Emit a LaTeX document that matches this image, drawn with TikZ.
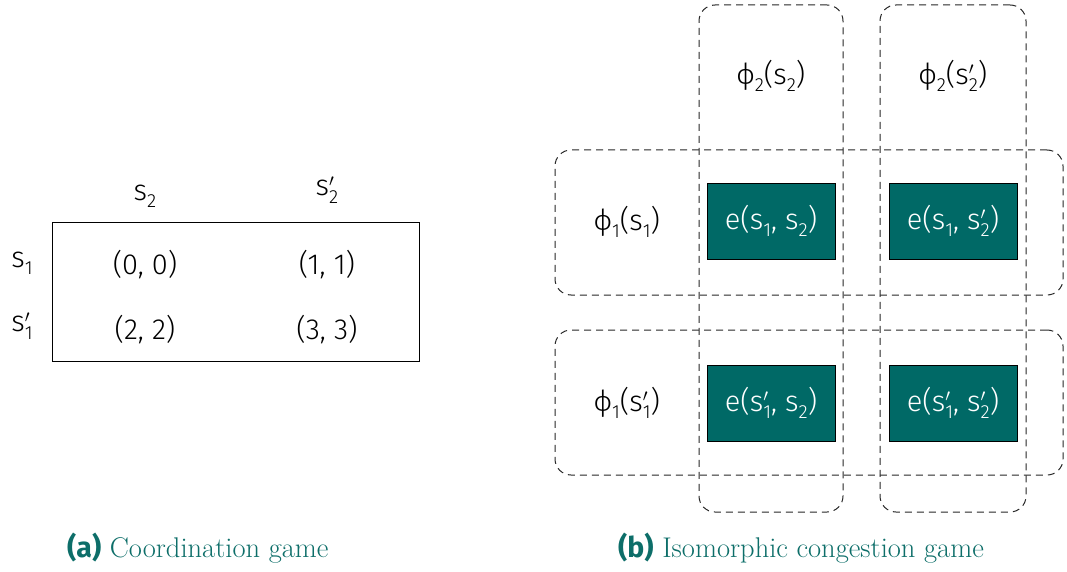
\documentclass[tikz,border=0pt]{standalone}
\usepackage{fontspec}
\newfontfamily\mfont{Fira Sans Light}
\newfontfamily\bfont{Fira Sans}
\definecolor{tealc}{HTML}{006966}
\definecolor{capc}{HTML}{0D6E69}
\newcommand\smsub[1]{\raisebox{-0.25em}{\fontsize{19}{19}\selectfont #1}}
\newcommand\spri[1]{s\makebox[0pt][l]{\raisebox{0.33em}{\fontsize{18}{18}\selectfont$\prime$}}\smsub{#1}}
\newcommand\sone[1]{s\smsub{#1}}
\begin{document}
\begin{tikzpicture}[x=1pt,y=-1pt,
  lab/.style={font=\mfont\fontsize{29}{31}\selectfont, inner sep=0pt},
  grp/.style={draw=black!85, dash pattern=on 7pt off 5pt, rounded corners=16pt, line width=1pt, inner sep=0pt},
  ebox/.style={draw=black, fill=tealc, text=white, line width=0.8pt, minimum width=128pt, minimum height=76pt, inner sep=0pt, font=\mfont\fontsize{29}{31}\selectfont},
  captxt/.style={text=capc, font=\fontsize{28.5}{30}\selectfont, inner sep=0pt, anchor=west}]
\useasboundingbox (0,0) rectangle (1067,572);
% (a)
\node[draw, line width=0.8pt, minimum width=367pt, minimum height=139pt, anchor=north west, inner sep=0pt] (tab) at (52,222) {};
\node[lab] (c1) at (145,196) {\sone{2}};
\node[lab] (c2) at (327,190) {\spri{2}};
\node[lab] (r1) at (22,263) {\sone{1}};
\node[lab] (r2) at (22,326) {\spri{1}};
\node[lab] (a11) at (145,265) {(0, 0)};
\node[lab] (a12) at (327,265) {(1, 1)};
\node[lab] (a21) at (145,330) {(2, 2)};
\node[lab] (a22) at (327,330) {(3, 3)};
% (b)
\node[grp, minimum width=144pt, minimum height=507pt] (g1) at (771,258.5) {};
\node[grp, minimum width=146pt, minimum height=507pt] (g2) at (953,258.5) {};
\node[grp, minimum width=508pt, minimum height=145pt] (h1) at (809,222.5) {};
\node[grp, minimum width=508pt, minimum height=145pt] (h2) at (809,402.5) {};
\node[lab] (p21) at (771,76) {ϕ\smsub{2}(\sone{2})};
\node[lab] (p22) at (953,76) {ϕ\smsub{2}(\spri{2})};
\node[lab] (p11) at (627,222) {ϕ\smsub{1}(\sone{1})};
\node[lab] (p12) at (627,403) {ϕ\smsub{1}(\spri{1})};
\node[ebox] (e11) at (771,221) {e(\sone{1}, \sone{2})};
\node[ebox] (e12) at (953,221) {e(\sone{1}, \spri{2})};
\node[ebox] (e21) at (771,403) {e(\spri{1}, \sone{2})};
\node[ebox] (e22) at (953,403) {e(\spri{1}, \spri{2})};
% captions
\node[captxt] (capa) at (67,548) {{\bfont\bfseries (a)} Coordination game};
\node[captxt] (capb) at (618,548) {{\bfont\bfseries (b)} Isomorphic congestion game};
\end{tikzpicture}
\end{document}
